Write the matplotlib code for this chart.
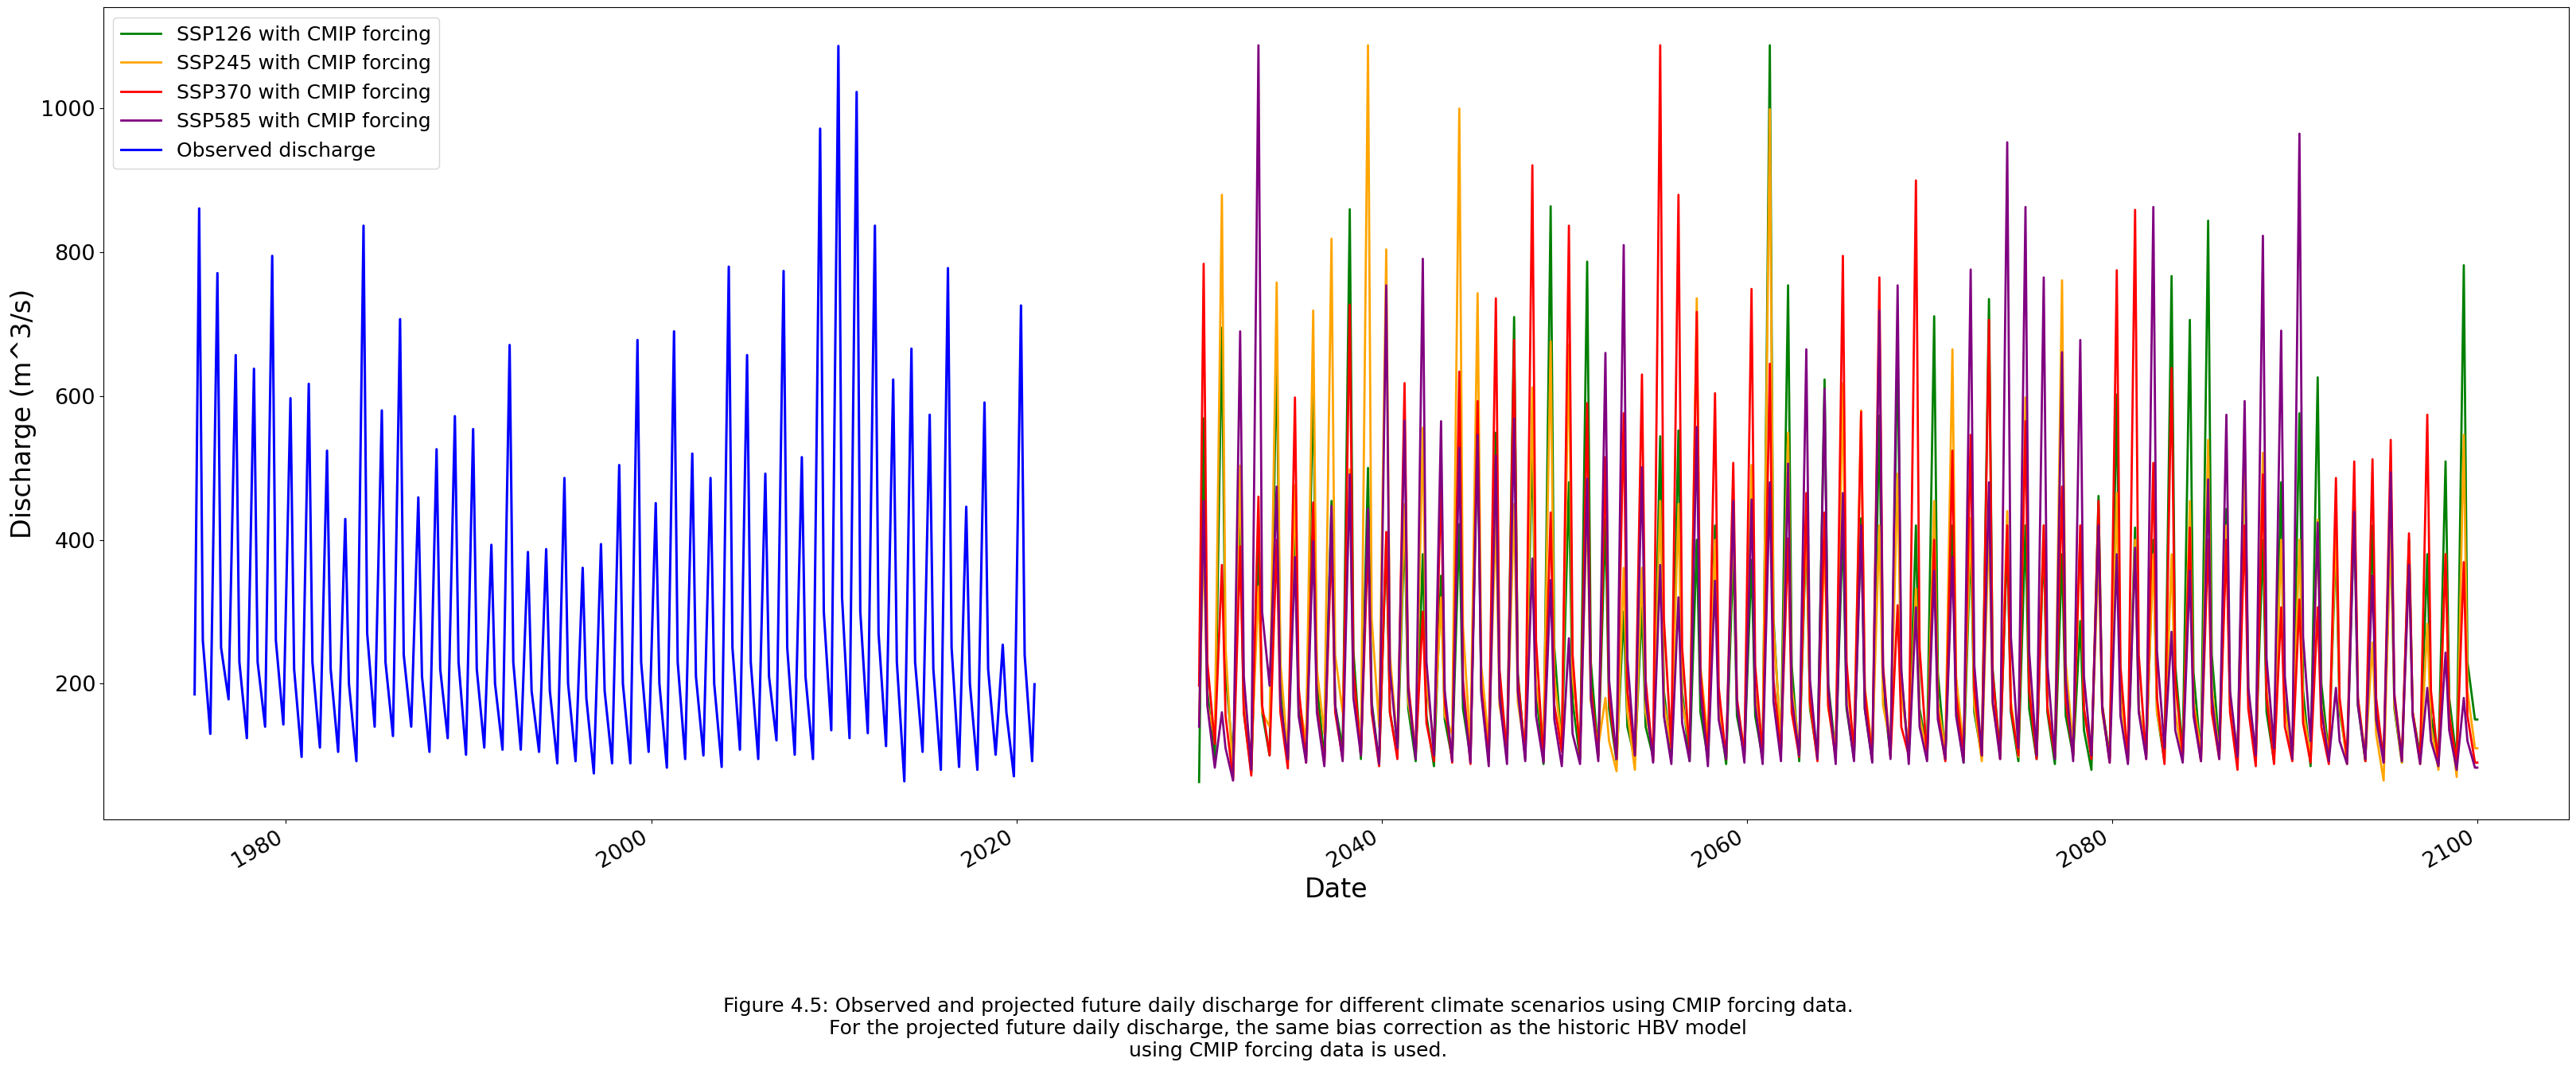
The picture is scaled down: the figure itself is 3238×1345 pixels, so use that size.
import datetime as dt
import matplotlib
matplotlib.use("Agg")
import matplotlib.pyplot as plt
import matplotlib.dates as mdates

# ---------------- data ----------------
# one peak, one post-peak (shoulder) value and one autumn minimum per year
obs_first_year = 1975
obs_start = 185
obs_end = 199
obs_peak = [861, 771, 657, 638, 795, 597, 617, 524, 429, 837, 580, 707, 459, 526, 572,
            554, 393, 671, 383, 387, 486, 361, 394, 504, 678, 451, 690, 520, 486, 780,
            657, 492, 774, 515, 972, 1087, 1023, 837, 623, 666, 574, 778, 446, 591, 254, 726]
obs_shoulder = [260, 250, 230, 230, 260, 220, 230, 220, 200, 270, 230, 240, 210, 220, 230,
                220, 200, 230, 190, 190, 200, 180, 190, 200, 230, 200, 230, 210, 200, 250,
                230, 210, 250, 210, 300, 320, 300, 270, 230, 230, 220, 250, 200, 220, 160, 240]
obs_low = [130, 178, 124, 140, 143, 98, 111, 105, 92, 140, 127, 140, 105, 124, 101,
           111, 108, 108, 105, 89, 92, 75, 89, 89, 105, 83, 95, 100, 84, 108,
           95, 121, 101, 95, 135, 124, 131, 113, 64, 105, 80, 84, 80, 101, 71, 92]

proj_first_year = 2030
ssp126_peak = [569, 695, 424, 400, 669, 428, 628, 454, 860, 500, 400, 420, 380, 350, 422,
               560, 549, 710, 545, 864, 480, 787, 430, 300, 306, 544, 552, 400, 420, 380,
               372, 1088, 754, 420, 623, 420, 430, 573, 678, 420, 711, 420, 400, 735, 400,
               420, 400, 380, 287, 461, 602, 417, 400, 767, 706, 844, 443, 535, 400, 480,
               576, 626, 400, 440, 420, 420, 400, 380, 509, 782]
ssp245_peak = [400, 880, 503, 335, 758, 476, 719, 819, 498, 1088, 804, 450, 556, 320, 1000,
               743, 430, 450, 612, 676, 672, 450, 180, 361, 361, 454, 450, 736, 400, 430,
               504, 999, 549, 430, 400, 618, 580, 420, 492, 332, 454, 665, 430, 420, 440,
               598, 420, 761, 400, 380, 465, 400, 380, 380, 454, 539, 420, 521, 521, 400,
               400, 428, 420, 476, 257, 420, 380, 283, 380, 546]
ssp370_peak = [784, 365, 391, 460, 400, 598, 452, 400, 727, 400, 411, 618, 300, 484, 634,
               593, 736, 678, 921, 438, 837, 590, 515, 576, 630, 1088, 880, 717, 604, 507,
               749, 645, 402, 465, 438, 795, 578, 765, 309, 900, 400, 524, 546, 706, 420,
               565, 420, 474, 420, 454, 775, 859, 507, 639, 417, 400, 400, 420, 491, 306,
               317, 306, 486, 509, 512, 539, 409, 574, 380, 369]
ssp585_peak = [454, 160, 690, 1088, 474, 376, 398, 447, 491, 443, 754, 566, 791, 565, 528,
               546, 517, 569, 374, 344, 263, 485, 660, 810, 501, 365, 320, 557, 343, 454,
               456, 480, 506, 665, 610, 465, 420, 719, 754, 306, 357, 376, 776, 480, 953,
               863, 765, 661, 678, 420, 380, 389, 863, 272, 357, 484, 574, 593, 823, 691,
               965, 424, 194, 439, 350, 494, 365, 194, 243, 180]

ssp126_shoulder = [190, 215, 160, 160, 210, 165, 200, 170, 245, 175, 160, 165, 155, 150, 165,
                   190, 190, 215, 190, 250, 175, 230, 165, 140, 140, 190, 190, 160, 165, 155,
                   155, 290, 225, 165, 200, 165, 165, 190, 210, 165, 215, 165, 160, 220, 160,
                   165, 160, 155, 135, 170, 195, 165, 160, 225, 215, 240, 170, 185, 160, 175,
                   190, 200, 160, 170, 165, 165, 160, 155, 180, 230]
ssp245_shoulder = [170, 250, 185, 160, 230, 180, 220, 240, 185, 290, 240, 175, 195, 155, 280,
                   225, 170, 175, 200, 210, 210, 175, 120, 160, 160, 175, 175, 225, 165, 170,
                   185, 280, 195, 170, 165, 200, 195, 170, 185, 155, 175, 210, 170, 170, 175,
                   200, 170, 230, 165, 160, 180, 165, 160, 160, 175, 195, 170, 190, 190, 165,
                   165, 170, 170, 180, 130, 170, 160, 140, 160, 190]
ssp370_shoulder = [230, 155, 160, 170, 160, 195, 170, 160, 220, 160, 160, 200, 145, 175, 205,
                   195, 220, 210, 260, 170, 240, 195, 180, 190, 205, 290, 250, 215, 195, 180,
                   225, 205, 160, 175, 170, 230, 190, 225, 140, 250, 160, 185, 190, 215, 165,
                   190, 165, 175, 165, 170, 225, 240, 180, 205, 165, 160, 160, 165, 180, 140,
                   145, 140, 180, 180, 180, 185, 160, 190, 155, 155]
ssp585_shoulder = [170, 110, 210, 300, 175, 155, 160, 170, 180, 170, 220, 190, 230, 190, 185,
                   185, 180, 190, 155, 150, 130, 180, 205, 235, 180, 155, 145, 190, 150, 170,
                   170, 175, 180, 205, 195, 170, 165, 215, 220, 140, 150, 155, 225, 175, 265,
                   245, 225, 205, 210, 165, 155, 160, 245, 135, 155, 180, 190, 195, 235, 210,
                   265, 165, 120, 170, 150, 180, 155, 120, 135, 120]

ssp126_low = [90, 95, 76, 100, 92, 98, 95, 110, 95, 88, 100, 92, 85, 95, 98,
              92, 100, 95, 88, 110, 95, 100, 92, 95, 98, 100, 92, 96, 88, 100,
              95, 110, 92, 98, 100, 95, 92, 100, 98, 105, 95, 90, 98, 100, 92,
              95, 88, 100, 80, 98, 95, 100, 92, 105, 98, 110, 95, 100, 92, 95,
              85, 100, 98, 92, 95, 90, 100, 95, 92, 150]
ssp245_low = [125, 70, 95, 140, 100, 120, 130, 160, 110, 140, 115, 108, 120, 130, 112,
              118, 110, 105, 120, 115, 110, 112, 78, 80, 105, 110, 115, 120, 100, 108,
              112, 120, 110, 100, 108, 112, 105, 115, 110, 100, 105, 110, 92, 105, 98,
              110, 100, 112, 105, 95, 100, 110, 98, 95, 105, 100, 108, 92, 100, 98,
              95, 100, 88, 98, 65, 90, 88, 80, 70, 110]
ssp370_low = [116, 66, 72, 100, 82, 90, 88, 95, 100, 85, 95, 100, 92, 90, 88,
              95, 100, 98, 92, 105, 100, 98, 95, 100, 92, 110, 105, 98, 95, 100,
              100, 105, 98, 92, 95, 100, 95, 98, 100, 95, 92, 98, 100, 95, 100,
              95, 98, 100, 95, 90, 92, 95, 88, 100, 92, 95, 80, 85, 88, 92,
              90, 88, 95, 92, 90, 95, 92, 88, 90, 90]
ssp585_low = [83, 65, 80, 197, 95, 90, 85, 92, 100, 88, 110, 95, 100, 92, 90,
              85, 88, 92, 90, 85, 88, 92, 95, 100, 90, 88, 92, 85, 95, 90,
              88, 92, 100, 95, 88, 92, 90, 95, 88, 92, 95, 90, 100, 95, 110,
              100, 95, 92, 100, 90, 88, 95, 110, 90, 92, 95, 98, 100, 110, 95,
              120, 92, 88, 95, 90, 92, 88, 85, 80, 83]
proj_start = [63, 150, 197, 140]
proj_end = [150, 110, 90, 83]

series_labels = ["SSP126 with CMIP forcing", "SSP245 with CMIP forcing",
                 "SSP370 with CMIP forcing", "SSP585 with CMIP forcing"]
series_colors = ["green", "orange", "red", "purple"]
caption = ("Figure 4.5: Observed and projected future daily discharge for different climate scenarios using CMIP forcing data.\n"
           "For the projected future daily discharge, the same bias correction as the historic HBV model\n"
           "using CMIP forcing data is used.")

# ---------------- seasonal timing of the read values (fraction of year) ----------------
PEAK_PHASE = 0.25
SHOULDER_PHASE = 0.45
LOW_PHASE = 0.86


def to_date(year_float):
    y = int(year_float)
    return dt.datetime(y, 1, 1) + dt.timedelta(days=(year_float - y) * 365.25)


def build(first_year, start, peaks, shoulders, lows, end):
    xs = [to_date(first_year)]
    ys = [start]
    for i in range(len(peaks)):
        y = first_year + i
        xs += [to_date(y + PEAK_PHASE), to_date(y + SHOULDER_PHASE), to_date(y + LOW_PHASE)]
        ys += [peaks[i], shoulders[i], lows[i]]
    xs.append(to_date(first_year + len(peaks) - 0.01))
    ys.append(end)
    return xs, ys


# ---------------- figure ----------------
fig = plt.figure(figsize=(32.38, 13.45), dpi=100)
ax = fig.add_subplot(111)

proj_peaks = [ssp126_peak, ssp245_peak, ssp370_peak, ssp585_peak]
proj_shoulders = [ssp126_shoulder, ssp245_shoulder, ssp370_shoulder, ssp585_shoulder]
proj_lows = [ssp126_low, ssp245_low, ssp370_low, ssp585_low]
for i in range(4):
    xs, ys = build(proj_first_year, proj_start[i], proj_peaks[i], proj_shoulders[i],
                   proj_lows[i], proj_end[i])
    ax.plot(xs, ys, color=series_colors[i], label=series_labels[i], linewidth=2)

xs, ys = build(obs_first_year, obs_start, obs_peak, obs_shoulder, obs_low, obs_end)
ax.plot(xs, ys, color="blue", label="Observed discharge", linewidth=2.2)

ax.set_xlim(dt.datetime(1970, 1, 1), dt.datetime(2105, 1, 1))
ax.set_ylim(11, 1141)
ax.xaxis.set_major_locator(mdates.YearLocator(20))
ax.xaxis.set_major_formatter(mdates.DateFormatter("%Y"))
ax.set_yticks([200, 400, 600, 800, 1000])
ax.tick_params(axis="both", labelsize=19.5)
for lbl in ax.get_xticklabels():
    lbl.set_rotation(30)
    lbl.set_ha("right")

ax.set_xlabel("Date", fontsize=24)
ax.set_ylabel("Discharge (m^3/s)", fontsize=24)
ax.legend(loc="upper left", fontsize=18)

fig.subplots_adjust(left=0.0401, right=0.9972, top=0.9933, bottom=0.2342)
fig.text(0.5, 0.0387, caption, ha="center", va="center", fontsize=18)

fig.savefig("out.png", dpi=100)
